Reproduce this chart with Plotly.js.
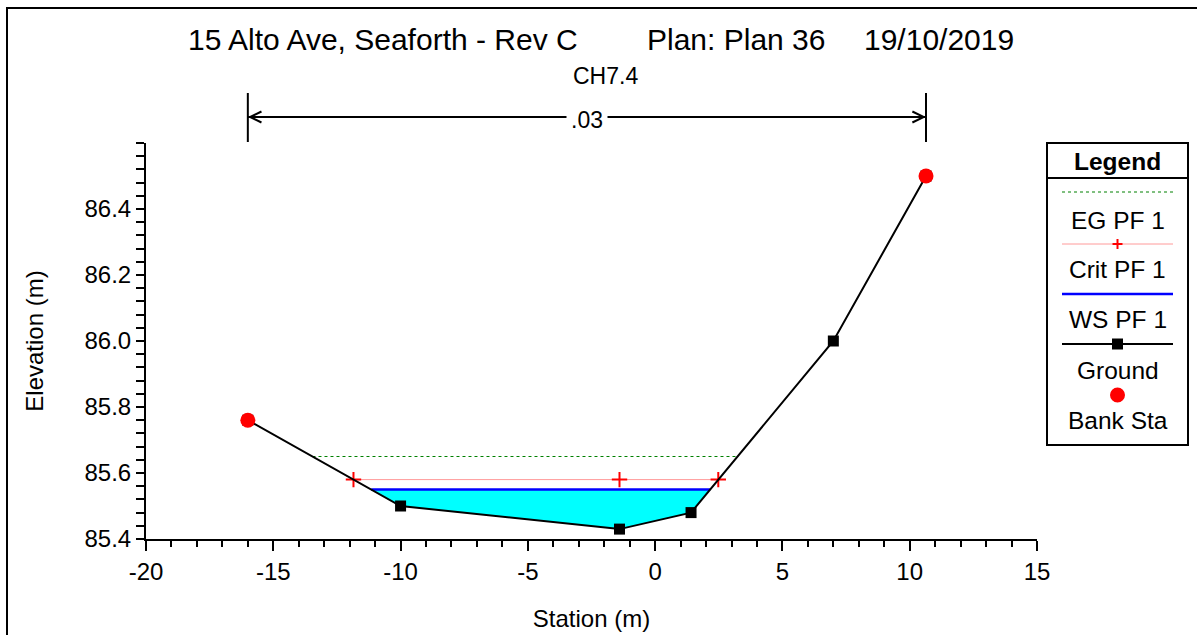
<!DOCTYPE html>
<html>
<head>
<meta charset="utf-8">
<script src="https://cdn.plot.ly/plotly-3.0.1.min.js"></script>
<style>
  html, body { margin: 0; padding: 0; background: #fff; }
  #chart { width: 1197px; height: 635px; }
</style>
</head>
<body>
<div id="chart"></div>
<script>
// ---- Data ----
const titleParts = ["15 Alto Ave, Seaforth - Rev C", "Plan: Plan 36", "19/10/2019"];
const sectionName = "CH7.4";
const manningN = ".03";

const groundSta  = [-16, -10, -1.4, 1.41, 7, 10.64];
const groundElev = [85.76, 85.50, 85.43, 85.48, 86.00, 86.50];

const bankSta  = [-16, 10.64];
const bankElev = [85.76, 86.50];

const wsSta  = [-11.15, 2.16];
const wsElev = [85.55, 85.55];

const critSta  = [-11.85, -1.4, 2.48];
const critElev = [85.58, 85.58, 85.58];

const egSta  = [-13.46, 3.24];
const egElev = [85.65, 85.65];

const xTickVals = [-20, -15, -10, -5, 0, 5, 10, 15];
const yTickVals = [85.4, 85.6, 85.8, 86.0, 86.2, 86.4];

const legendNames = ["EG PF 1", "Crit PF 1", "WS PF 1", "Ground", "Bank Sta"];

// ---- Layout geometry (pixels) ----
const W = 1197, H = 635;
const L = 146, R = 1037, T = 143, B = 539;
const px = x => (x - L) / (R - L);
const py = y => (B - y) / (B - T);

const FONT = "Arial, 'Liberation Sans', sans-serif";

// Water polygon built from ground points lying between the WS edges
const waterX = [wsSta[0]], waterY = [wsElev[0]];
groundSta.forEach((s, i) => { if (s > wsSta[0] && s < wsSta[1]) { waterX.push(s); waterY.push(groundElev[i]); } });
waterX.push(wsSta[1]); waterY.push(wsElev[1]);

const traces = [
  { x: waterX, y: waterY, mode: 'lines', fill: 'toself', fillcolor: '#00ffff',
    line: { width: 0, color: '#00ffff' }, hoverinfo: 'skip', showlegend: false },
  { x: egSta, y: egElev, mode: 'lines', name: legendNames[0],
    line: { color: '#008000', width: 1, dash: 'dot' }, showlegend: false },
  { x: critSta, y: critElev, mode: 'lines+markers', name: legendNames[1],
    line: { color: '#ff9a9a', width: 1 },
    marker: { symbol: 'cross-thin', size: 11, color: '#ff0000', line: { color: '#ff0000', width: 2 } },
    showlegend: false },
  { x: wsSta, y: wsElev, mode: 'lines', name: legendNames[2],
    line: { color: '#0000ff', width: 2.5 }, showlegend: false },
  { x: groundSta, y: groundElev, mode: 'lines+markers', name: legendNames[3],
    line: { color: '#000000', width: 2 },
    marker: { symbol: 'square', size: 11, color: '#000000' }, showlegend: false },
  { x: bankSta, y: bankElev, mode: 'markers', name: legendNames[4],
    marker: { symbol: 'circle', size: 15, color: '#ff0000' }, showlegend: false, cliponaxis: false }
];

// ---- Shapes ----
const shapes = [];
// outer frame
shapes.push({ type: 'rect', xref: 'paper', yref: 'paper', x0: px(7), x1: px(1210), y0: py(8), y1: py(650),
  line: { color: '#000', width: 2 }, fillcolor: 'rgba(0,0,0,0)', layer: 'below' });
// bank station bars
bankSta.forEach(s => shapes.push({ type: 'line', xref: 'x', yref: 'paper', x0: s, x1: s, y0: py(93), y1: py(142),
  line: { color: '#000', width: 2 } }));
// n-value dimension line
shapes.push({ type: 'line', xref: 'x', yref: 'paper', x0: bankSta[0], x1: bankSta[1], y0: py(117), y1: py(117),
  line: { color: '#000', width: 2 } });

// Legend box
const LX0 = 1047, LX1 = 1188, LCX = (LX0 + LX1) / 2;
shapes.push({ type: 'rect', xref: 'paper', yref: 'paper', x0: px(LX0), x1: px(LX1), y0: py(143), y1: py(445),
  line: { color: '#000', width: 2 }, fillcolor: '#fff' });
shapes.push({ type: 'line', xref: 'paper', yref: 'paper', x0: px(LX0), x1: px(LX1), y0: py(178), y1: py(178),
  line: { color: '#000', width: 2 } });
const sx0 = 1062, sx1 = 1173;
// EG sample
shapes.push({ type: 'line', xref: 'paper', yref: 'paper', x0: px(sx0), x1: px(sx1), y0: py(192), y1: py(192),
  line: { color: '#008000', width: 1, dash: 'dot' } });
// Crit sample
shapes.push({ type: 'line', xref: 'paper', yref: 'paper', x0: px(sx0), x1: px(sx1), y0: py(244), y1: py(244),
  line: { color: '#ff9a9a', width: 1 } });
shapes.push({ type: 'line', xref: 'paper', yref: 'paper', x0: px(LCX - 5), x1: px(LCX + 5), y0: py(244), y1: py(244),
  line: { color: '#ff0000', width: 2 } });
shapes.push({ type: 'line', xref: 'paper', yref: 'paper', x0: px(LCX), x1: px(LCX), y0: py(239), y1: py(249),
  line: { color: '#ff0000', width: 2 } });
// WS sample
shapes.push({ type: 'line', xref: 'paper', yref: 'paper', x0: px(sx0), x1: px(sx1), y0: py(294), y1: py(294),
  line: { color: '#0000ff', width: 2.5 } });
// Ground sample
shapes.push({ type: 'line', xref: 'paper', yref: 'paper', x0: px(sx0), x1: px(sx1), y0: py(344), y1: py(344),
  line: { color: '#000', width: 2 } });
shapes.push({ type: 'rect', xref: 'paper', yref: 'paper', x0: px(LCX - 5.5), x1: px(LCX + 5.5), y0: py(338.5), y1: py(349.5),
  line: { width: 0 }, fillcolor: '#000' });
// Bank sample
shapes.push({ type: 'circle', xref: 'paper', yref: 'paper', x0: px(LCX - 7.5), x1: px(LCX + 7.5), y0: py(387.5), y1: py(402.5),
  line: { width: 0 }, fillcolor: '#ff0000' });

// ---- Annotations ----
const annotations = [];
const titleX = [186, 645, 862];
titleParts.forEach((t, i) => annotations.push({ text: t, xref: 'paper', yref: 'paper', x: px(titleX[i]), y: py(40),
  xanchor: 'left', yanchor: 'middle', showarrow: false, font: { family: FONT, size: 30, color: '#000' } }));
annotations.push({ text: sectionName, xref: 'paper', yref: 'paper', x: px(605), y: py(76),
  xanchor: 'center', yanchor: 'middle', showarrow: false, font: { family: FONT, size: 23, color: '#000' } });
annotations.push({ text: manningN, xref: 'x', yref: 'paper', x: (bankSta[0] + bankSta[1]) / 2, y: py(120),
  xanchor: 'center', yanchor: 'middle', showarrow: false, bgcolor: '#fff', borderpad: 4,
  font: { family: FONT, size: 23, color: '#000' } });
// arrowheads
annotations.push({ text: '', xref: 'x', yref: 'paper', x: bankSta[0], y: py(117), ax: 30, ay: 0,
  showarrow: true, arrowhead: 5, arrowsize: 1.1, arrowwidth: 2, arrowcolor: '#000', standoff: 0 });
annotations.push({ text: '', xref: 'x', yref: 'paper', x: bankSta[1], y: py(117), ax: -30, ay: 0,
  showarrow: true, arrowhead: 5, arrowsize: 1.1, arrowwidth: 2, arrowcolor: '#000', standoff: 0 });
// legend texts
annotations.push({ text: '<b>Legend</b>', xref: 'paper', yref: 'paper', x: px(LCX), y: py(161),
  xanchor: 'center', yanchor: 'middle', showarrow: false, font: { family: FONT, size: 24.5, color: '#000' } });
const legTextY = [220, 269, 319, 370, 420];
legendNames.forEach((n, i) => annotations.push({ text: n, xref: 'paper', yref: 'paper', x: px(LCX), y: py(legTextY[i]),
  xanchor: 'center', yanchor: 'middle', showarrow: false, font: { family: FONT, size: 24.5, color: '#000' } }));

const layout = {
  width: W, height: H,
  margin: { l: L, r: W - R, t: T, b: H - B, pad: 0 },
  paper_bgcolor: '#fff', plot_bgcolor: '#fff',
  showlegend: false,
  font: { family: FONT, size: 24, color: '#000' },
  xaxis: {
    range: [-20, 15], tickmode: 'array', tickvals: xTickVals, ticktext: xTickVals.map(v => String(v)),
    showgrid: false, zeroline: false,
    showline: true, linecolor: '#000', linewidth: 2,
    ticks: 'outside', ticklen: 10, tickwidth: 2, tickcolor: '#000',
    minor: { dtick: 1, tick0: 0, ticks: 'outside', ticklen: 6, tickwidth: 2, tickcolor: '#000', showgrid: false },
    tickfont: { family: FONT, size: 24 },
    title: { text: 'Station (m)', font: { family: FONT, size: 24 }, standoff: 26 },
    automargin: false, fixedrange: true
  },
  yaxis: {
    range: [85.4, 86.6], tickmode: 'array', tickvals: yTickVals, ticktext: yTickVals.map(v => v.toFixed(1)),
    showgrid: false, zeroline: false,
    showline: true, linecolor: '#000', linewidth: 2,
    ticks: 'outside', ticklen: 8, tickwidth: 2, tickcolor: '#000',
    minor: { dtick: 0.04, tick0: 85.4, ticks: 'outside', ticklen: 8, tickwidth: 2, tickcolor: '#000', showgrid: false },
    tickfont: { family: FONT, size: 24 },
    title: { text: 'Elevation (m)', font: { family: FONT, size: 24 }, standoff: 34 },
    automargin: false, fixedrange: true
  },
  shapes: shapes,
  annotations: annotations
};

Plotly.newPlot('chart', traces, layout, { staticPlot: true, displayModeBar: false });
</script>
</body>
</html>
